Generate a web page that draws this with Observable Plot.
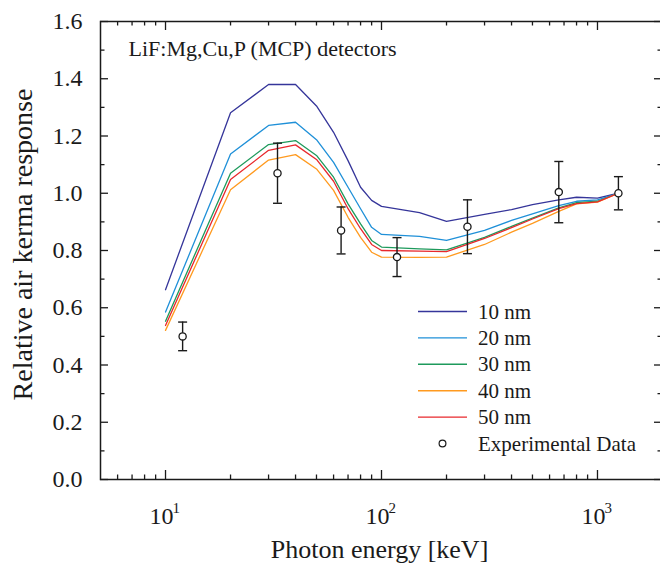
<!DOCTYPE html>
<html>
<head>
<meta charset="utf-8">
<script src="https://cdn.jsdelivr.net/npm/d3@7"></script>
<script src="https://cdn.jsdelivr.net/npm/@observablehq/plot@0.6"></script>
<style>
  html, body { margin: 0; padding: 0; background: white; }
  #wrap { position: relative; width: 660px; height: 565px; overflow: hidden; }
  #legend { position: absolute; left: 0; top: 0; }
  #wrap svg, #wrap svg text { font-family: "Liberation Serif", Tinos, "Times New Roman", Times, "DejaVu Serif", serif !important; }
</style>
</head>
<body>
<div id="wrap"></div>
<script>
// ---- data ----
const energies = [10, 20, 30, 40, 50, 60, 70, 80, 90, 100, 150, 200, 300, 400, 500, 662, 800, 1000, 1250];
const nm10 = [0.663, 1.281, 1.380, 1.380, 1.305, 1.213, 1.114, 1.021, 0.975, 0.954, 0.932, 0.902, 0.926, 0.943, 0.960, 0.977, 0.986, 0.983, 1.0];
const nm20 = [0.585, 1.137, 1.237, 1.248, 1.187, 1.108, 1.021, 0.946, 0.881, 0.856, 0.849, 0.835, 0.870, 0.905, 0.928, 0.957, 0.972, 0.977, 1.0];
const nm30 = [0.553, 1.070, 1.170, 1.184, 1.132, 1.056, 0.963, 0.893, 0.835, 0.812, 0.806, 0.802, 0.846, 0.884, 0.913, 0.949, 0.967, 0.972, 1.0];
const nm40 = [0.521, 1.012, 1.116, 1.135, 1.085, 1.010, 0.916, 0.846, 0.794, 0.777, 0.776, 0.777, 0.821, 0.864, 0.895, 0.937, 0.963, 0.969, 1.0];
const nm50 = [0.538, 1.048, 1.150, 1.169, 1.118, 1.042, 0.946, 0.876, 0.821, 0.800, 0.798, 0.796, 0.842, 0.880, 0.910, 0.946, 0.964, 0.970, 1.0];

const seriesNames = ["10 nm", "20 nm", "30 nm", "40 nm", "50 nm"];
const seriesColors = ["#35359a", "#1f90d8", "#1e9a5c", "#ff9a1f", "#e8282c"];
const seriesValues = [nm10, nm20, nm30, nm40, nm50];

const expEnergy = [12, 33, 65, 118, 250, 662, 1250];
const expResp   = [0.500, 1.070, 0.870, 0.777, 0.883, 1.004, 1.000];
const expErr    = [0.050, 0.105, 0.082, 0.068, 0.094, 0.107, 0.058];

const yMajor = [0, 0.2, 0.4, 0.6, 0.8, 1.0, 1.2, 1.4, 1.6];
const yMinor = [0.1, 0.3, 0.5, 0.7, 0.9, 1.1, 1.3, 1.5];
const xMajor = [10, 100, 1000];
const xExponents = ["1", "2", "3"];
const xMinor = [6, 7, 8, 9, 20, 30, 40, 50, 60, 70, 80, 90, 200, 300, 400, 500, 600, 700, 800, 900];

const titleText = "LiF:Mg,Cu,P (MCP) detectors";
const xLabel = "Photon energy [keV]";
const yLabel = "Relative air kerma response";
const expLabel = "Experimental Data";

// ---- tables ----
const lineRows = [];
seriesNames.forEach((s, k) => energies.forEach((e, i) => lineRows.push({series: s, e, r: seriesValues[k][i]})));
const expRows = expEnergy.map((e, i) => ({e, r: expResp[i], lo: expResp[i] - expErr[i], hi: expResp[i] + expErr[i]}));

const W = 660, H = 565, mL = 100, mR = -2, mT = 21, mB = 86;
const innerW = W - mL - mR, innerH = H - mT - mB;
const ink = "#1a1a1a";
const font = "Liberation Serif, Tinos, Times New Roman, serif";

const capSymbol = { draw(ctx, size) { const w = 4.5; ctx.moveTo(-w, 0); ctx.lineTo(w, 0); } };

const chart = Plot.plot({
  width: W, height: H,
  marginLeft: mL, marginRight: mR, marginTop: mT, marginBottom: mB,
  x: {type: "log", domain: [5, 2000]},
  y: {domain: [0, 1.6]},
  color: {domain: seriesNames, range: seriesColors},
  style: {fontFamily: font, background: "white", color: ink, overflow: "visible"},
  marks: [
    // ticks (inward, mirrored)
    Plot.tickY(yMajor, {y: d => d, insetRight: innerW - 8, stroke: ink, strokeWidth: 1.3}),
    Plot.tickY(yMinor, {y: d => d, insetRight: innerW - 4.5, stroke: ink, strokeWidth: 1.3}),
    Plot.tickY(yMajor, {y: d => d, insetLeft: innerW - 8, stroke: ink, strokeWidth: 1.3}),
    Plot.tickY(yMinor, {y: d => d, insetLeft: innerW - 4.5, stroke: ink, strokeWidth: 1.3}),
    Plot.tickX(xMajor, {x: d => d, insetTop: innerH - 9, stroke: ink, strokeWidth: 1.3}),
    Plot.tickX(xMinor, {x: d => d, insetTop: innerH - 4.5, stroke: ink, strokeWidth: 1.3}),
    Plot.tickX(xMajor, {x: d => d, insetBottom: innerH - 9, stroke: ink, strokeWidth: 1.3}),
    Plot.tickX(xMinor, {x: d => d, insetBottom: innerH - 4.5, stroke: ink, strokeWidth: 1.3}),
    // axis labels
    Plot.axisY(yMajor, {tickSize: 0, tickPadding: 18, tickFormat: d3.format(".1f"), fontSize: 24, label: null}),
    Plot.axisX(xMajor, {tickSize: 0, tickPadding: 27, tickFormat: () => "10", fontSize: 24, dx: -4, label: null}),
    Plot.text(xMajor, {x: d => d, text: (d, i) => xExponents[i], frameAnchor: "bottom", textAnchor: "start", lineAnchor: "top", fontSize: 15, dy: 23, dx: 7, fill: ink}),
    Plot.text([xLabel], {text: d => d, frameAnchor: "bottom", textAnchor: "middle", lineAnchor: "middle", fontSize: 26, dy: 70, dx: -2, fill: ink}),
    Plot.text([yLabel], {text: d => d, frameAnchor: "left", textAnchor: "middle", rotate: -90, lineAnchor: "middle", fontSize: 28, dx: -77, dy: -6, fill: ink}),
    Plot.text([titleText], {text: d => d, frameAnchor: "top-left", textAnchor: "start", lineAnchor: "middle", fontSize: 22, dx: 28, dy: 27, fill: ink}),
    // model curves
    Plot.line(lineRows, {x: "e", y: "r", z: "series", stroke: "series", strokeWidth: 1.3}),
    // experimental data
    Plot.ruleX(expRows, {x: "e", y1: "lo", y2: "hi", stroke: ink, strokeWidth: 1.4}),
    Plot.dot(expRows, {x: "e", y: "lo", symbol: capSymbol, r: 4, stroke: ink, strokeWidth: 1.4}),
    Plot.dot(expRows, {x: "e", y: "hi", symbol: capSymbol, r: 4, stroke: ink, strokeWidth: 1.4}),
    Plot.dot(expRows, {x: "e", y: "r", r: 3.6, fill: "white", stroke: ink, strokeWidth: 1.3}),
    Plot.frame({stroke: ink, strokeWidth: 1.5})
  ]
});

const wrap = document.getElementById("wrap");
wrap.appendChild(chart);

// ---- legend (overlay) ----
const legendX0 = 418, legendX1 = 467, legendTextX = 478, legendY0 = 311.5, legendStep = 26.4;
const svg = d3.select(wrap).append("svg")
  .attr("id", "legend").attr("width", W).attr("height", H)
  .style("font-family", font);
seriesNames.forEach((s, i) => {
  const y = legendY0 + i * legendStep;
  svg.append("line").attr("x1", legendX0).attr("x2", legendX1).attr("y1", y).attr("y2", y)
    .attr("stroke", seriesColors[i]).attr("stroke-width", 1.4);
  svg.append("text").attr("x", legendTextX).attr("y", y).attr("dy", "0.34em")
    .attr("font-size", 21).attr("fill", ink).text(s);
});
{
  const y = legendY0 + 5 * legendStep;
  svg.append("circle").attr("cx", (legendX0 + legendX1) / 2).attr("cy", y).attr("r", 3.4)
    .attr("fill", "white").attr("stroke", ink).attr("stroke-width", 1.2);
  svg.append("text").attr("x", legendTextX).attr("y", y).attr("dy", "0.34em")
    .attr("font-size", 21).attr("fill", ink).text(expLabel);
}
</script>
</body>
</html>
